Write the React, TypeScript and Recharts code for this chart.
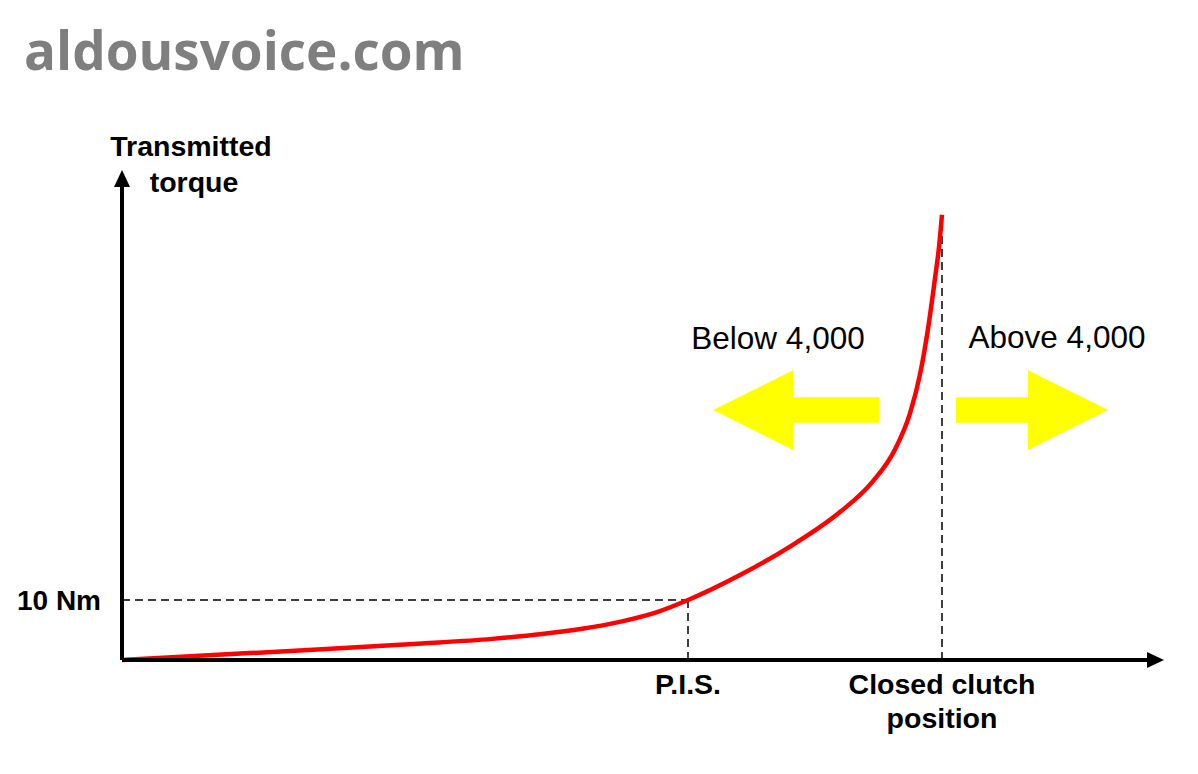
import React from 'react'
import { LineChart, Line, XAxis, YAxis, ReferenceLine, ReferenceArea, ReferenceDot } from 'recharts'

// clutch position (arbitrary units) vs transmitted torque (Nm)
const position = [0, 10, 20, 30, 37, 42, 46, 50, 53.5, 56.6, 61.8, 66.8, 71.8, 75, 77.3, 78.8, 79.8, 80.6, 81.3, 81.7, 82]
const torque = [0, 0.9, 1.8, 2.75, 3.52, 4.32, 5.2, 6.44, 7.98, 10, 14.16, 18.9, 24.65, 29.6, 35.1, 41.1, 47.6, 55.2, 63.6, 68.8, 74.2]

const xTicks = [56.6, 82]
const xTickLabels = [['P.I.S.'], ['Closed clutch', 'position']]
const yTicks = [10]
const yTickLabels = ['10 Nm']

const pisPos = 56.6
const pisTorque = 10
const closedPos = 82
const closedLineTop = 72.8

const data = position.map((p, i) => ({ pos: p, torque: torque[i] }))

const FONT = 'Liberation Sans, Arial, sans-serif'

function XTick({ x, y, payload }: any) {
  const lines = xTickLabels[xTicks.indexOf(payload.value)] || []
  return (
    <text x={x} y={y} textAnchor="middle" fontFamily={FONT} fontWeight={700} fontSize={28.5} fill="#000">
      {lines.map((l, i) => (
        <tspan key={i} x={x} dy={i === 0 ? 26 : 34}>{l}</tspan>
      ))}
    </text>
  )
}

function YTick({ y, payload }: any) {
  const label = yTickLabels[yTicks.indexOf(payload.value)]
  return (
    <text x={101} y={y + 10} textAnchor="end" fontFamily={FONT} fontWeight={700} fontSize={28} fill="#000">{label}</text>
  )
}

function LeftArrow({ x, y, width, height }: any) {
  const head = 80
  const s1 = y + height * 0.34
  const s2 = y + height * 0.66
  const pts = [
    [x, y + height / 2], [x + head, y], [x + head, s1], [x + width, s1],
    [x + width, s2], [x + head, s2], [x + head, y + height],
  ]
  return <polygon points={pts.map(p => p.join(',')).join(' ')} fill="#ffff00" />
}

function RightArrow({ x, y, width, height }: any) {
  const head = 80
  const s1 = y + height * 0.34
  const s2 = y + height * 0.66
  const r = x + width
  const pts = [
    [r, y + height / 2], [r - head, y], [r - head, s1], [x, s1],
    [x, s2], [r - head, s2], [r - head, y + height],
  ]
  return <polygon points={pts.map(p => p.join(',')).join(' ')} fill="#ffff00" />
}

const UpHead = ({ cx, cy }: any) => (
  <polygon points={`${cx - 8},${cy + 1} ${cx + 8},${cy + 1} ${cx},${cy - 16}`} fill="#000" />
)
const RightHead = ({ cx, cy }: any) => (
  <polygon points={`${cx - 1},${cy - 8} ${cx - 1},${cy + 8} ${cx + 16},${cy}`} fill="#000" />
)

export default function App() {
  return (
    <div style={{ position: 'absolute', left: 0, top: 0, width: 1198, height: 774, background: '#fff' }}>
      <LineChart width={1198} height={774} data={data} margin={{ top: 186, right: 50, bottom: 0, left: 0 }}>
        <XAxis
          type="number"
          dataKey="pos"
          domain={[0, 102.6]}
          ticks={xTicks}
          tick={<XTick />}
          tickLine={false}
          height={114}
          axisLine={{ stroke: '#000', strokeWidth: 4 }}
          interval={0}
        />
        <YAxis
          type="number"
          domain={[0, 79]}
          ticks={yTicks}
          tick={<YTick />}
          tickLine={false}
          width={122}
          axisLine={{ stroke: '#000', strokeWidth: 4 }}
        />
        <ReferenceLine segment={[{ x: 0, y: pisTorque }, { x: pisPos, y: pisTorque }]} stroke="#000" strokeWidth={1.5} strokeDasharray="8 5" />
        <ReferenceLine segment={[{ x: pisPos, y: 0 }, { x: pisPos, y: pisTorque }]} stroke="#000" strokeWidth={1.5} strokeDasharray="8 5" />
        <ReferenceLine segment={[{ x: closedPos, y: 0 }, { x: closedPos, y: closedLineTop }]} stroke="#000" strokeWidth={1.5} strokeDasharray="8 5" />
        <ReferenceArea x1={59.1} x2={75.7} y1={35} y2={48.3} shape={<LeftArrow />} />
        <ReferenceArea x1={83.4} x2={98.6} y1={35} y2={48.3} shape={<RightArrow />} />
        <Line type="monotone" dataKey="torque" stroke="#ff0000" strokeWidth={4.5} dot={false} isAnimationActive={false} />
        <ReferenceDot x={0} y={79} ifOverflow="visible" shape={<UpHead />} />
        <ReferenceDot x={102.6} y={0} ifOverflow="visible" shape={<RightHead />} />
      </LineChart>
      <svg width={1198} height={774} style={{ position: 'absolute', left: 0, top: 0, pointerEvents: 'none' }}>
        <text x={24} y={70} fontFamily="Open Sans, sans-serif" fontWeight={700} fontSize={53} fill="#7f7f7f">aldousvoice.com</text>
        <text x={191} y={156} textAnchor="middle" fontFamily={FONT} fontWeight={700} fontSize={28.5} fill="#000">Transmitted</text>
        <text x={194} y={192} textAnchor="middle" fontFamily={FONT} fontWeight={700} fontSize={28.5} fill="#000">torque</text>
        <text x={778} y={349} textAnchor="middle" fontFamily={FONT} fontSize={31.5} fill="#000">Below 4,000</text>
        <text x={1057} y={348} textAnchor="middle" fontFamily={FONT} fontSize={31.5} fill="#000">Above 4,000</text>
      </svg>
    </div>
  )
}
